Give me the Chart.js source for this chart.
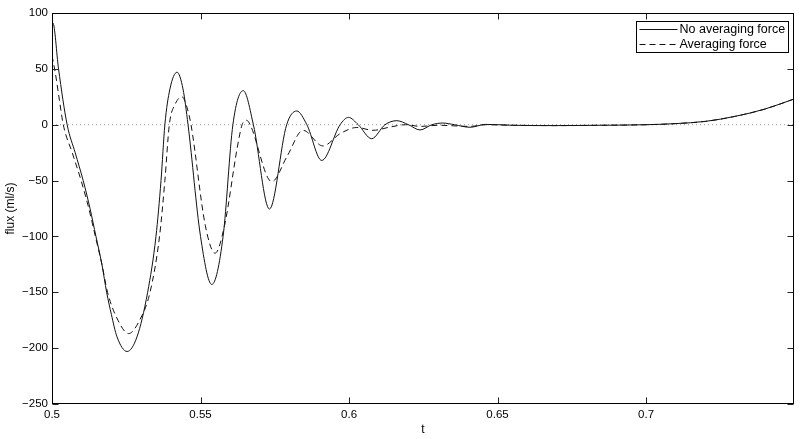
<!DOCTYPE html>
<html>
<head>
<meta charset="utf-8">
<script src="https://cdn.jsdelivr.net/npm/chart.js@4/dist/chart.umd.min.js"></script>
<style>
  html, body { margin: 0; padding: 0; background: #fff; }
  canvas { display: block; }
</style>
</head>
<body>
<canvas id="myChart" width="803" height="439"></canvas>
<script>
// 時刻 t と流量 (ml/s) — 平均化なし
const tNoAvg = [
    0.5000, 0.5003, 0.5022, 0.5051, 0.5078, 0.5105, 0.5128, 0.5148, 0.5168, 0.5184,
    0.5200, 0.5219, 0.5253, 0.5286, 0.5322, 0.5350, 0.5367, 0.5380, 0.5397, 0.5421,
    0.5441, 0.5458, 0.5500, 0.5538, 0.5576, 0.5609, 0.5644, 0.5678, 0.5732, 0.5790,
    0.5824, 0.5858, 0.5908, 0.5970, 0.5998, 0.6031, 0.6076, 0.6121, 0.6161, 0.6200,
    0.6239, 0.6279, 0.6316, 0.6355, 0.6407, 0.6460, 0.6550, 0.6700, 0.6850, 0.7000,
    0.7100, 0.7200, 0.7300, 0.7400, 0.7498
];
const fluxNoAvg = [
    88, 91, 50, 0, -25, -50, -75, -100, -125, -150,
    -170, -190, -203, -190, -150, -100, -50, 0, 32, 47,
    32, 0, -100, -143, -100, 0, 30.5, 0, -75.5, 0,
    12.3, 0, -32, 0, 6.6, 0, -12.5, 0, 3.6, 0,
    -4.7, 0, 1.5, 0, -2.3, 0.3, -0.5, -0.8, -0.5, 0,
    1, 3, 7.5, 14, 23
];

// 平均化あり
const tAvg = [
    0.5000, 0.5012, 0.5025, 0.5038, 0.5068, 0.5098, 0.5124, 0.5146, 0.5168, 0.5187,
    0.5222, 0.5258, 0.5295, 0.5330, 0.5362, 0.5380, 0.5395, 0.5414, 0.5438, 0.5455,
    0.5468, 0.5516, 0.5549, 0.5581, 0.5624, 0.5640, 0.5655, 0.5667, 0.5740, 0.5792,
    0.5845, 0.5912, 0.5970, 0.6026, 0.6081, 0.6140, 0.6190, 0.6240, 0.6300, 0.6407,
    0.6460, 0.6550, 0.6700, 0.6850, 0.7000, 0.7100, 0.7200, 0.7300, 0.7400, 0.7498
];
const fluxAvg = [
    62, 45, 22, 0, -25, -50, -75, -100, -125, -150,
    -175, -187, -175, -150, -100, -50, 0, 18, 25, 15,
    0, -90, -115, -90, -20, 0, 4, 0, -51, -28,
    -5, -19, -8, -2.5, -5, -2, 0, -1.5, -0.5, -1.5,
    0, -0.5, -0.8, -0.5, 0, 1, 3, 7.5, 14, 23
];

const seriesLabels = ['No averaging force', 'Averaging force'];
const xTicks = [0.5, 0.55, 0.6, 0.65, 0.7];
const yTicks = [100, 50, 0, -50, -100, -150, -200, -250];
const xRange = [0.5, 0.7498];
const yRange = [-250, 100];

const FAMILY = '"Liberation Sans", Arial, Helvetica, sans-serif';
const TICK_FONT = { family: FAMILY, size: 11.5 };
const TITLE_FONT = { family: FAMILY, size: 12 };
const LEGEND_FONT_SIZE = 12.5;

function toPoints(ts, vs) {
    return ts.map((t, i) => ({ x: t, y: vs[i] }));
}

// 枠と内向きの目盛り線
const frameTicks = {
    id: 'frameTicks',
    afterDraw(chart) {
        const { ctx, chartArea: a, scales: { x, y } } = chart;
        const L = Math.round(a.left) + 0.5, R = Math.round(a.right) - 0.5;
        const T = Math.round(a.top) + 0.5, B = Math.round(a.bottom) - 0.5;
        ctx.save();
        ctx.strokeStyle = '#222';
        ctx.lineWidth = 1;
        ctx.beginPath();
        x.ticks.forEach(tk => {
            const px = Math.round(x.getPixelForValue(tk.value)) + 0.5;
            ctx.moveTo(px, B); ctx.lineTo(px, B - 6);
            ctx.moveTo(px, T); ctx.lineTo(px, T + 6);
        });
        y.ticks.forEach(tk => {
            const py = Math.round(y.getPixelForValue(tk.value)) + 0.5;
            ctx.moveTo(L, py); ctx.lineTo(L + 6, py);
            ctx.moveTo(R, py); ctx.lineTo(R - 6, py);
        });
        ctx.stroke();
        ctx.strokeStyle = '#000';
        ctx.strokeRect(L, T, R - L, B - T);
        ctx.restore();
    }
};

// 凡例 (グラフ内の右上に枠付きで描く)
const legendBox = {
    id: 'legendBox',
    afterDraw(chart) {
        const { ctx, chartArea: a } = chart;
        const items = chart.data.datasets.filter(d => seriesLabels.includes(d.label));
        ctx.save();
        ctx.font = LEGEND_FONT_SIZE + 'px ' + FAMILY;
        const textW = Math.max(...items.map(d => ctx.measureText(d.label).width));
        const lineLen = 38, gap = 2, padL = 3, padR = 3, rowH = 15;
        const w = Math.round(padL + lineLen + gap + textW + padR);
        const h = rowH * items.length + 1;
        const x0 = Math.round(a.right - 6 - w) + 0.5;
        const y0 = Math.round(a.top + 8) + 0.5;
        ctx.fillStyle = '#fff';
        ctx.fillRect(x0, y0, w, h);
        ctx.strokeStyle = '#000';
        ctx.lineWidth = 1;
        ctx.strokeRect(x0, y0, w, h);
        items.forEach((d, i) => {
            const cy = Math.round(y0 + rowH * (i + 0.5)) + 0.5;
            ctx.setLineDash(d.borderDash || []);
            ctx.strokeStyle = d.borderColor;
            ctx.beginPath();
            ctx.moveTo(x0 + padL, cy);
            ctx.lineTo(x0 + padL + lineLen, cy);
            ctx.stroke();
            ctx.setLineDash([]);
            ctx.fillStyle = '#000';
            ctx.textBaseline = 'middle';
            ctx.fillText(d.label, x0 + padL + lineLen + gap, cy);
        });
        ctx.restore();
    }
};

const ctx = document.getElementById('myChart').getContext('2d');
new Chart(ctx, {
    type: 'line',
    data: {
        datasets: [
            {
                label: seriesLabels[0],
                data: toPoints(tNoAvg, fluxNoAvg),
                borderColor: '#111',
                borderWidth: 1,
                pointRadius: 0,
                cubicInterpolationMode: 'monotone',
                fill: false
            },
            {
                label: seriesLabels[1],
                data: toPoints(tAvg, fluxAvg),
                borderColor: '#111',
                borderWidth: 1,
                borderDash: [6, 4],
                pointRadius: 0,
                cubicInterpolationMode: 'monotone',
                fill: false
            },
            {
                label: 'zero',
                data: toPoints(xRange, [0, 0]),
                borderColor: '#999',
                borderWidth: 1,
                borderDash: [1, 3],
                pointRadius: 0,
                fill: false
            }
        ]
    },
    options: {
        responsive: false,
        animation: false,
        devicePixelRatio: 1,
        layout: { padding: { left: 0, right: 9, top: 13, bottom: 0 } },
        plugins: {
            legend: { display: false },
            tooltip: { enabled: false }
        },
        scales: {
            x: {
                type: 'linear',
                min: xRange[0],
                max: xRange[1],
                grid: { display: false, drawTicks: false },
                border: { display: false },
                afterBuildTicks: s => { s.ticks = xTicks.map(v => ({ value: v })); },
                afterFit: s => { s.height = 35; },
                ticks: {
                    font: TICK_FONT, color: '#000', padding: 4, maxRotation: 0,
                    autoSkip: false,
                    callback: v => String(v)
                },
                title: {
                    display: true, text: 't', font: TITLE_FONT, color: '#000',
                    padding: { top: 0, bottom: 2 }
                }
            },
            y: {
                type: 'linear',
                min: yRange[0],
                max: yRange[1],
                grid: { display: false, drawTicks: false },
                border: { display: false },
                afterBuildTicks: s => { s.ticks = yTicks.map(v => ({ value: v })); },
                afterFit: s => { s.width = 52; },
                ticks: {
                    font: TICK_FONT, color: '#000', padding: 4,
                    autoSkip: false,
                    callback: v => (v < 0 ? '\u2212' + Math.abs(v) : String(v))
                },
                title: {
                    display: true, text: 'flux (ml/s)', font: TITLE_FONT, color: '#000',
                    padding: { top: 3, bottom: 0 }
                }
            }
        }
    },
    plugins: [frameTicks, legendBox]
});
</script>
</body>
</html>
